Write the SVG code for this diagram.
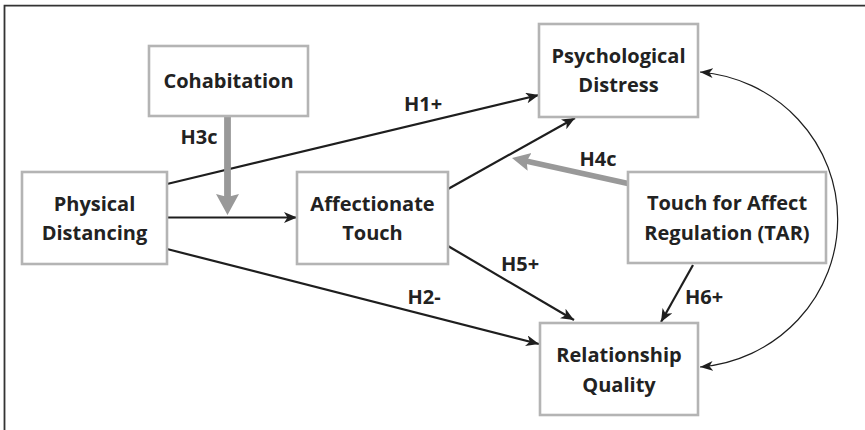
<svg xmlns="http://www.w3.org/2000/svg" width="865" height="430" viewBox="0 0 865 430">
<style>
.box{fill:#fff;stroke:#b4b4b4;stroke-width:2.6}
.t{font-family:"Open Sans","Liberation Sans",sans-serif;font-weight:bold;font-size:20px;fill:#222;text-anchor:middle}
.c{stroke:#1e1e1e;stroke-width:2.2;fill:none}
.g{stroke:#999;fill:none}
</style>
<defs>
<marker id="ab" markerUnits="userSpaceOnUse" markerWidth="14" markerHeight="12" refX="13" refY="5.5" orient="auto"><path d="M0,0 L13,5.5 L0,11 L3.5,5.5 z" fill="#1e1e1e"/></marker>
<marker id="at" markerUnits="userSpaceOnUse" markerWidth="14" markerHeight="12" refX="13" refY="5" orient="auto-start-reverse"><path d="M0,0 L13,5 L0,10 L3.5,5 z" fill="#1e1e1e"/></marker>
<marker id="ag" markerUnits="userSpaceOnUse" markerWidth="22" markerHeight="24" refX="6" refY="11.5" orient="auto"><path d="M0,0 L21,11.5 L0,23 L3,11.5 z" fill="#999"/></marker>
<marker id="ag2" markerUnits="userSpaceOnUse" markerWidth="20" markerHeight="20" refX="5" refY="9" orient="auto"><path d="M0,0 L18,9 L0,18 L3,9 z" fill="#999"/></marker>
</defs>
<path d="M4.5,430 V5.7 H865" fill="none" stroke="#333" stroke-width="1.8"/>
<g id="connectors">
<line class="c" x1="167" y1="184" x2="539" y2="95" marker-end="url(#ab)"/>
<line class="c" x1="167" y1="217.5" x2="297" y2="217.5" marker-end="url(#ab)"/>
<line class="c" x1="167" y1="249" x2="539" y2="344" marker-end="url(#ab)"/>
<line class="c" x1="448" y1="189" x2="575" y2="118" marker-end="url(#ab)"/>
<line class="c" x1="448" y1="246" x2="574" y2="320" marker-end="url(#ab)"/>
<line class="c" x1="693" y1="265" x2="661" y2="322" marker-end="url(#ab)"/>
<line class="g" stroke-width="6.8" x1="227.5" y1="116" x2="227.5" y2="200" marker-end="url(#ag)"/>
<line class="g" stroke-width="5.5" x1="628" y1="183.5" x2="524.7" y2="160.8" marker-end="url(#ag2)"/>
<path d="M700,72 A150,148 0 0 1 700,367" fill="none" stroke="#1e1e1e" stroke-width="1.2" marker-start="url(#at)" marker-end="url(#at)"/>
<text class="t" x="423" y="111">H1+</text>
<text class="t" x="199" y="144">H3c</text>
<text class="t" x="598" y="165.5">H4c</text>
<text class="t" x="424" y="304">H2-</text>
<text class="t" x="520" y="271">H5+</text>
<text class="t" x="704" y="304">H6+</text>
</g>
<g id="cohabitation"><rect class="box" x="149" y="46" width="159" height="70"/><text class="t" x="228.5" y="88">Cohabitation</text></g>
<g id="physical-distancing"><rect class="box" x="22" y="172" width="145" height="92"/><text class="t" x="94.5" y="210.7">Physical</text><text class="t" x="94.5" y="240">Distancing</text></g>
<g id="affectionate-touch"><rect class="box" x="297" y="172" width="151" height="92"/><text class="t" x="372.5" y="210.7">Affectionate</text><text class="t" x="372.5" y="240">Touch</text></g>
<g id="psychological-distress"><rect class="box" x="539" y="24" width="159" height="93"/><text class="t" x="618.5" y="62.7">Psychological</text><text class="t" x="618.5" y="92.3">Distress</text></g>
<g id="tar"><rect class="box" x="628" y="172" width="198" height="91"/><text class="t" x="727" y="210.3">Touch for Affect</text><text class="t" x="727" y="239.7">Regulation (TAR)</text></g>
<g id="relationship-quality"><rect class="box" x="540" y="323" width="158" height="92"/><text class="t" x="619" y="361.7">Relationship</text><text class="t" x="619" y="391.5">Quality</text></g>
</svg>
